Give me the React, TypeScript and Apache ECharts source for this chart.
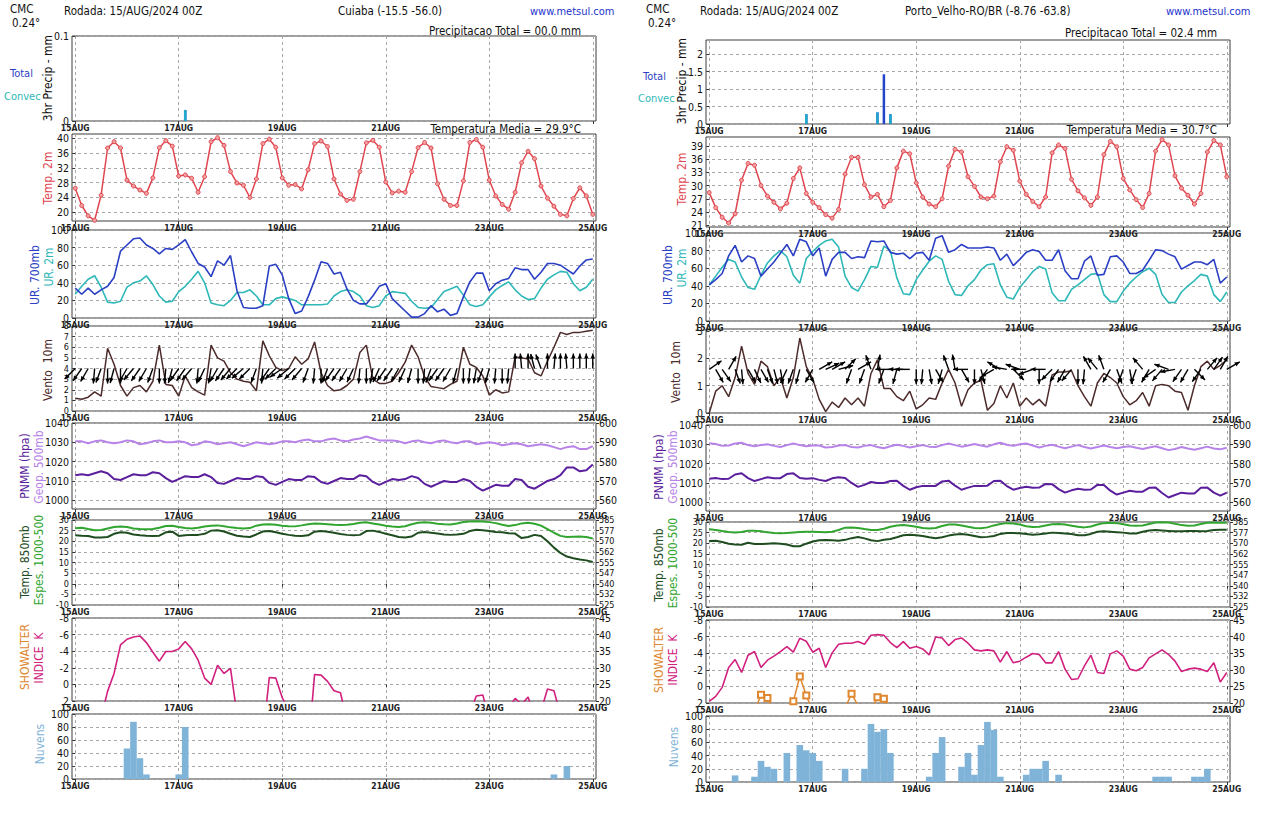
import React, { useEffect, useRef } from "react";
import * as echarts from "echarts";

const FONT = '"Liberation Sans Narrow","DejaVu Sans Condensed","Arial Narrow","Liberation Sans",sans-serif';

const DAY_HOURS = [0, 48, 96, 144, 192, 240];
const DAY_LABELS = ["15AUG", "17AUG", "19AUG", "21AUG", "23AUG", "25AUG"];
const STEP_HOURS = 3;

// tick label lists
const TICKS_PRECIP_CUIABA = [0, 0.1];
const TICKS_PRECIP_PVH = [0, 0.5, 1, 1.5, 2];
const TICKS_TEMP_CUIABA = [20, 24, 28, 32, 36, 40];
const TICKS_TEMP_PVH = [21, 24, 27, 30, 33, 36, 39];
const TICKS_UR = [0, 20, 40, 60, 80, 100];
const TICKS_WIND_CUIABA = [0, 1, 2, 3, 4, 5, 6, 7, 8];
const TICKS_WIND_PVH = [0, 1, 2, 3];
const TICKS_PNMM = [1000, 1010, 1020, 1030, 1040];
const TICKS_GEOP = [560, 570, 580, 590, 600];
const TICKS_T850 = [-10, -5, 0, 5, 10, 15, 20, 25, 30];
const TICKS_ESPES = [525, 532.5, 540, 547.5, 555, 562.5, 570, 577.5, 585];
const TICKS_SHOWALTER = [-8, -6, -4, -2, 0, 2];
const TICKS_K = [20, 25, 30, 35, 40, 45];
const TICKS_NUVENS = [0, 20, 40, 60, 80, 100];

// ---------------- Cuiaba (3-hourly, 15AUG00Z .. 25AUG00Z) ----------------
const cuiabaPrecipTotal = [[17, 0.013]];
const cuiabaPrecipConvec = [[17, 0.013]];
const cuiabaTemp2m = [26.5,21.8,19.0,17.8,24.6,37.4,39.1,37.4,28.7,27.1, 26.0,25.1,29.3,37.5,39.4,37.9,29.8,30.1,29.2,25.4, 29.6,39.1,40.2,38.1,31.0,27.9,27.3,24.0,29.0,38.6, 39.8,37.6,29.3,27.3,27.5,26.3,31.5,38.6,39.3,37.8, 29.0,24.9,23.2,23.5,31.0,38.8,39.5,37.6,28.2,25.2, 25.7,25.4,31.0,37.5,38.9,37.4,27.7,23.5,21.8,21.8, 28.5,38.9,39.7,37.6,28.7,24.4,22.1,20.8,25.4,33.4, 36.5,34.5,27.1,23.8,21.6,19.4,19.0,23.7,26.6,24.4, 19.4];
const cuiabaUR700 = [34,27,34,27,32,36,46,76,83,90, 91,83,79,73,79,78,83,89,75,62, 58,47,65,60,71,31,12,11,11,14, 59,61,49,22,5,8,24,43,64,62, 50,52,33,20,16,16,25,36,39,22, 15,8,1,1,5,14,7,10,3,5, 24,41,51,51,31,39,43,45,57,55, 55,44,52,62,62,60,55,50,59,66, 67];
const cuiabaUR2m = [27,36,44,48,35,18,17,19,35,40, 42,48,38,25,18,19,30,36,44,53, 40,17,15,14,20,29,29,32,25,15, 15,22,24,22,20,15,15,15,15,16, 25,30,32,30,25,14,12,14,25,30, 29,28,19,12,11,12,21,30,33,36, 26,15,13,15,24,32,37,41,32,25, 21,22,34,44,49,53,52,39,31,35, 44];
const cuiabaWind10m = [1.2,1.1,1.3,1.8,1.4,5.9,4.4,2.4,1.4,2.2, 2.4,1.8,2.8,6.2,2.5,2.4,1.4,3.3,2.2,1.8, 1.5,6.2,5.0,4.7,3.6,3.0,2.8,2.7,1.9,6.6, 5.2,4.1,3.8,4.0,5.1,4.4,4.9,6.5,3.6,2.4, 1.9,2.0,2.4,3.0,5.5,6.2,3.0,2.6,2.6,2.8, 3.6,4.6,6.2,5.1,3.2,2.3,2.2,2.1,2.5,2.8, 6.0,4.4,4.1,3.3,1.5,2.0,1.7,1.8,5.1,5.0, 4.9,3.6,3.3,4.7,6.0,7.4,7.2,7.4,7.4,7.5, 7.6];
// direction the wind arrow points to (degrees clockwise from north)
const cuiabaWindDir = [225,215,210,185,200,180,195,180,210,220, 215,210,200,180,185,195,215,215,220,185, 205,190,210,215,220,225,230,225,200,185, 215,225,235,230,225,220,200,185,180,200, 215,215,210,205,185,180,190,205,215,215, 210,205,195,180,185,200,215,215,210,195, 180,185,190,200,195,185,180,185,0,355, 0,345,340,0,5,0,355,0,0,0, 0];
const cuiabaPNMM = [1013,1013.5,1013,1014,1015,1014,1011,1010.5,1012,1013.5, 1013,1013,1014.5,1014,1011.5,1009.5,1011,1012.5,1012,1012, 1013.5,1012,1009,1008.5,1010,1011.5,1011,1011,1012.5,1012, 1009,1008,1009.5,1011,1010.5,1010.5,1012.5,1012,1009.5,1008.5, 1010,1011.5,1011,1011,1013,1012.5,1009.5,1008,1009.5,1011, 1010.5,1011,1012.5,1011.5,1008.5,1007,1008.5,1010,1009.5,1009.5, 1011,1010,1007,1005,1006.5,1008,1007.5,1007.5,1011,1010.5, 1007,1006,1008,1010,1011,1013,1017,1017,1015,1015.5, 1018.5];
const cuiabaGeop500 = [590.5,590.5,589.5,590.5,591,590,589.5,590,591,590.5, 589,589.5,590.5,591,590,590,590.5,590,588.5,589, 590.5,590,589,589.5,590,589,588,589,590,589.5, 589,589.5,590.5,590.5,590,591,591.5,590.5,590.5,591.5, 592,591,590.5,591.5,592,593,592,591,591,591, 590.5,589.5,590.5,591,590,589.5,590.5,591,590,589.5, 590.5,590.5,589,589.5,590,589.5,588.5,589,589.5,589, 588,588.5,589,588.5,587.5,586.5,587.5,588,586.5,586.5, 588];
const cuiabaT850 = [22.8,22.6,22.5,21.8,21.8,22.0,23.5,24.2,24.0,23.2, 22.8,22.6,22.5,22.6,24.2,24.5,22.5,22.8,23.0,23.0, 23.5,25.0,25.2,24.6,23.5,22.6,22.2,22.0,23.2,24.6, 24.8,24.2,23.5,23.0,22.6,22.5,22.8,24.5,24.8,24.5, 24.0,23.4,23.0,22.8,23.0,24.8,25.0,24.4,23.5,22.8, 22.0,21.8,22.2,24.0,24.4,24.0,23.6,23.2,23.0,23.2, 23.5,24.8,25.4,25.2,24.8,24.4,24.2,23.8,23.6,21.5, 22.0,23.0,22.5,20.0,17.0,14.5,12.8,12.0,11.4,11.0, 10.2];
const cuiabaEspes = [579.2,579.5,578.6,577.8,578.0,579.0,580.0,580.4,580.0,579.0, 578.6,578.5,578.6,579.5,580.8,581.0,580.0,579.3,579.0,579.5, 580.4,581.0,581.2,580.6,579.8,579.3,579.0,579.3,581.0,581.8, 582.0,581.6,581.0,580.6,580.5,581.2,582.0,582.6,582.4,582.0, 581.6,581.4,581.6,582.2,583.0,583.4,582.6,581.8,581.0,580.4, 580.0,580.6,582.0,583.0,583.4,583.0,582.4,582.0,581.8,582.6, 583.6,584.0,584.2,584.0,583.5,582.8,581.6,580.8,581.4,582.6, 583.0,582.4,581.0,578.6,576.0,573.8,573.0,573.2,573.4,573.0, 572.0];
const cuiabaIndiceK = [10,12,14,15,15, 22.9,28.3,36.9,38.6,39.3,39.6,37.6,34.7,32.0,34.9,34.9,35.7,37.9,35.7,32.3,26.9,25.0,30.8,28.3,29.8, 16,12,12,12,9, 27.1,26.9,21, 17,14,12,5, 28,27.8,25.9,23.1,22.5, 14,12,12,13,14,14,13,12,12,12,13,14,14,13,12,12,13,14,15,16.5, 21.5,21.8, 14.6,14,15,18, 20.8,19,21.2,15,17,23.6,23.1,16,14,13,13,12,12];
const cuiabaNuvens = [[8,47],[9,88],[10,32],[11,7],[16,7],[17,80],[74,7],[76,20]];

// ---------------- Porto Velho ----------------
const pvhPrecipTotal = [[15,0.28],[26,0.33],[27,1.42],[28,0.28]];
const pvhPrecipConvec = [[15,0.28],[26,0.33],[28,0.28]];
const pvhTemp2m = [28.4,25.0,22.8,21.5,23.6,31.2,35.0,34.6,30.0,27.6, 26.2,24.7,26.0,31.6,34.0,28.2,26.2,25.0,23.4,22.6, 24.6,32.6,36.4,36.4,30.2,27.4,28.0,25.2,26.6,34.0, 37.8,37.2,30.6,27.4,25.8,25.2,27.0,34.4,38.2,37.6, 32.0,29.8,27.4,27.0,27.6,35.4,38.8,38.0,31.0,28.0, 26.4,25.2,27.4,37.4,39.2,38.4,31.4,28.8,27.2,25.5, 27.4,37.0,40.0,38.8,31.6,29.0,26.8,25.0,28.2,37.8, 40.4,39.2,32.2,29.4,27.8,25.8,28.2,37.6,40.2,39.2, 32.0];
const pvhUR700 = [41,47,54,74,86,67,74,71,51,59, 67,77,87,74,93,90,74,83,51,70, 78,78,71,73,72,91,90,91,78,76, 77,71,77,78,69,94,97,78,81,87, 83,83,83,84,83,69,76,63,70,78, 81,79,69,69,81,57,48,48,68,74, 52,53,73,74,67,54,54,58,69,81, 80,76,73,59,63,67,67,64,70,43, 50];
const pvhUR2m = [41,51,61,70,67,50,38,36,52,66, 74,80,73,52,43,71,79,86,91,93, 84,51,38,34,47,62,61,85,80,49, 31,30,47,58,68,74,70,45,30,29, 40,47,58,64,65,41,27,25,38,47, 56,62,59,32,23,23,36,41,47,53, 54,30,22,22,34,43,50,56,60,53, 30,21,21,33,40,46,53,51,30,22, 33];
const pvhWind10m = [0.0,0.8,1.0,0.6,1.3,2.45,1.45,1.05,1.9,1.7, 1.0,1.3,0.55,1.3,2.75,1.7,1.25,0.5,0.05,0.4, 0.2,0.55,0.3,0.55,0.25,1.45,1.95,0.9,0.9,0.6, 0.45,0.8,0.15,0.3,0.55,0.5,1.1,1.6,1.1,0.25, 0.85,1.1,1.2,0.1,0.35,1.0,0.55,1.1,0.25,0.55, 0.3,0.5,0.25,1.4,1.5,1.5,1.55,1.0,0.6,0.25, 1.1,1.45,1.3,1.1,0.6,0.3,0.45,0.75,0.25,1.0, 1.05,1.0,0.8,0.75,0.1,1.0,1.7,1.9,1.6,1.75, 1.95];
const pvhWindDir = [55,150,145,30,160,175,150,155,150,160, 165,170,205,200,195,150,210,60,65,60, 75,45,200,60,200,340,10,200,270,195, 270,270,180,185,170,150,195,340,350,150, 270,180,165,215,240,300,280,135,290,270, 250,180,270,225,215,210,220,180,185,330, 320,340,210,160,200,170,200,320,210,235, 220,290,260,215,210,135,215,40,35,30, 60];
const pvhPNMM = [1012.2,1012.6,1012.0,1012.2,1014.4,1015.0,1012.5,1011.0,1012.0,1013.0, 1012.5,1012.5,1014.6,1015.0,1012.6,1012.2,1012.5,1011.6,1011.0,1012.4, 1013.0,1012.6,1010.0,1008.0,1009.0,1010.5,1010.0,1010.0,1011.0,1011.2, 1008.5,1006.5,1007.8,1008.5,1008.4,1008.5,1010.8,1011.2,1008.6,1006.5, 1007.6,1008.5,1008.4,1008.6,1011.0,1011.2,1008.4,1006.5,1007.4,1008.0, 1007.5,1007.6,1009.5,1009.4,1006.8,1005.0,1006.2,1007.0,1006.5,1006.6, 1009.0,1009.0,1006.0,1004.0,1005.0,1006.0,1005.5,1005.5,1007.5,1007.6, 1004.8,1002.5,1003.8,1005.0,1004.6,1004.5,1007.5,1007.6,1005.0,1003.5, 1005.0];
const pvhGeop500 = [590.6,590.2,589.2,589.4,590.4,590.8,589.6,589.0,589.6,590.0, 589.2,588.6,589.6,590.4,589.6,589.0,589.4,589.4,588.4,588.6, 589.4,589.6,588.6,588.4,589.2,589.6,588.6,588.0,589.0,589.8, 589.2,588.4,589.0,589.6,588.8,588.6,589.6,590.4,589.6,588.8, 589.4,590.2,589.4,588.8,590.0,590.8,589.8,589.2,590.0,590.4, 589.4,588.4,589.2,589.8,588.8,588.0,588.8,589.6,588.6,587.8, 588.6,589.4,588.6,588.0,588.6,589.0,588.2,587.6,588.4,589.0, 588.0,587.0,587.6,588.6,587.8,587.2,588.0,588.8,587.8,587.4, 588.2];
const pvhT850 = [21.1,21.2,20.6,19.8,19.4,19.3,20.2,19.6,19.6,19.8, 20.0,19.8,19.4,18.6,18.6,19.8,20.8,21.4,21.5,21.4, 21.2,21.6,22.4,22.9,22.3,21.4,21.0,21.6,22.0,22.8, 23.8,24.0,23.8,23.4,22.8,22.4,22.8,23.6,24.1,24.3, 24.0,23.4,22.8,23.0,23.4,24.4,24.8,24.8,24.7,24.4, 24.0,24.2,24.6,25.0,24.8,24.6,24.4,23.8,23.8,24.4, 25.4,25.6,25.4,25.2,25.0,24.6,24.6,25.4,26.0,26.2, 26.0,25.8,25.6,25.6,25.8,25.8,25.6,25.8,26.2,26.4, 26.4];
const pvhEspes = [579.8,579.4,578.6,578.0,577.6,578.0,578.8,578.8,578.4,577.8, 577.2,577.0,577.2,577.6,578.0,578.2,578.2,578.0,577.8,578.2, 579.4,581.0,581.2,580.8,580.0,579.4,579.4,580.2,581.6,582.6, 582.8,582.4,581.6,580.8,580.4,580.8,582.2,583.2,583.2,582.6, 581.6,580.8,580.6,581.2,582.6,583.6,584.2,584.0,583.2,582.0, 581.4,581.6,582.6,583.4,583.6,583.2,582.4,581.6,581.2,581.8, 583.2,584.2,584.4,584.2,583.4,582.6,582.4,582.6,583.6,584.6, 584.8,584.6,583.8,582.8,582.4,582.6,583.6,584.4,584.6,584.4, 584.4];
const pvhIndiceK = [20.5,22,24.7,30.7,33.1,29.2,34.4,35.5,30.7,32.9, 34.1,35.5,37,35.3,39.5,38.6,35.3,36.5,30.7,35.1, 37.7,38,38,38.5,37.7,40.4,40.6,40.4,38.2,36.7, 38.5,36.5,37,36.3,34.5,39.9,39.6,37.3,39.1,39.6, 38,36,35.7,36,35.7,32.3,35.5,32.1,32.6,33.8, 34.9,34.6,32.1,32.1,35.5,30.2,27.1,27.3,31.2,34.4, 29.2,28.9,34.8,35.7,34.1,30.2,29.7,30.7,33.6,34.8, 36,34.6,32.6,29.5,30.2,30.5,30.2,29.5,32.1,26.3, 29.2];
const pvhShowalter = [5,5,4,4,4,4,4,3,1.0,1.4, 3,4,3,1.8,-1.2,1.1,3,4,4,5, 4,2.6,0.9,2.3,4,3,1.3,1.5,3,4, 4,3,4,3,4,3,3,4,3,3, 4,4,4,4,4,5,4,5,5,5, 4,4,5,5,4,5,6,6,5,4, 5,5,4,4,4,5,5,5,4,4, 4,4,5,5,5,5,5,5,5,6, 5];
const pvhNuvens = [[4,10],[7,8],[8,32],[9,23],[10,20],[12,44],[14,56],[15,48],[16,44],[17,32],[21,20],[24,20],[25,88],[26,76],[27,80],[28,44],[34,8],[35,44],[36,68],[39,23],[40,44],[41,11],[42,56],[43,91],[44,79],[45,8],[49,11],[50,20],[51,20],[52,32],[54,11],[69,8],[70,8],[71,8],[75,8],[76,8],[77,20]];

const C = {
  red: "#e0464f",
  blue: "#2b3fc4",
  teal: "#2fb8b8",
  wind: "#4d2b2b",
  pnmm: "#5b1f9e",
  geop: "#b883e8",
  t850: "#1f4d1f",
  espes: "#31a52f",
  k: "#d1207e",
  show: "#e0882f",
  nuv: "#7fb3d8",
  ptot: "#2244cc",
  pconv: "#22aacc",
  grid: "#a8a8a8",
  border: "#3c3c3c",
};

const series3h = (arr: number[]) => arr.map((v, i) => [i * STEP_HOURS, v]);
const pairs3h = (arr: number[][]) => arr.map(([i, v]) => [i * STEP_HOURS, v]);

function buildOption() {
  const grid: any[] = [];
  const xAxis: any[] = [];
  const yAxis: any[] = [];
  const series: any[] = [];
  const graphic: any[] = [];
  const GRID_W = 524;

  const addGrid = (left: number, top: number, bottom: number, labelHours: number[] = DAY_HOURS) => {
    const gi = grid.length;
    grid.push({ left, top, width: GRID_W, height: bottom - top, show: true, borderColor: C.border, borderWidth: 1, outerBoundsMode: "none", containLabel: false });
    xAxis.push({
      gridIndex: gi, type: "value", min: -1.5, max: 241.5,
      axisLine: { show: false },
      axisTick: { show: true, customValues: DAY_HOURS, length: 3, lineStyle: { color: "#333" } },
      axisLabel: { show: true, customValues: labelHours, showMinLabel: true, showMaxLabel: true, hideOverlap: false, formatter: (v: number) => DAY_LABELS[DAY_HOURS.indexOf(v)] || "", fontSize: 8.5, lineHeight: 9, fontWeight: "bold", margin: 2, color: "#222", fontFamily: FONT },
      splitLine: { show: true, lineStyle: { color: C.grid, type: [3, 3], width: 1 } },
    });
    return gi;
  };
  const addY = (gi: number, min: number, max: number, ticks: number[], opts: any = {}) => {
    yAxis.push({
      gridIndex: gi, type: "value", min, max, inverse: !!opts.inverse, position: opts.right ? "right" : "left",
      axisLine: { show: false },
      axisTick: { show: true, customValues: ticks, length: 3, lineStyle: { color: "#333" } },
      axisLabel: { show: true, customValues: ticks, showMinLabel: true, showMaxLabel: true, hideOverlap: false, formatter: opts.fmt || ((v: number) => String(v)), fontSize: opts.fs || 10.5, lineHeight: opts.fs ? opts.fs - 1 : 10, margin: 3, color: "#111", fontFamily: FONT },
      splitLine: { show: !opts.right, lineStyle: { color: C.grid, type: [3, 3], width: 1 } },
    });
    return yAxis.length - 1;
  };
  const line = (gi: number, yi: number, data: any[], color: string, width = 1.5, extra: any = {}) => {
    series.push({ type: "line", xAxisIndex: gi, yAxisIndex: yi, data, symbol: "none", lineStyle: { color, width }, itemStyle: { color }, clip: true, z: 3, ...extra });
  };
  const bars = (gi: number, yi: number, data: any[], color: string, width: number, z = 2) => {
    series.push({ type: "bar", xAxisIndex: gi, yAxisIndex: yi, data, barWidth: width, barGap: "-100%", itemStyle: { color }, z });
  };
  const arrows = (gi: number, yi: number, dirs: number[], level: number) => {
    series.push({
      type: "custom", xAxisIndex: gi, yAxisIndex: yi, clip: false, z: 4,
      data: series3h(dirs),
      renderItem: (_p: any, api: any) => {
        const t = api.value(0);
        const d = (api.value(1) * Math.PI) / 180;
        const p = api.coord([t, level]);
        const L = 15;
        const ex = p[0] + L * Math.sin(d);
        const ey = p[1] - L * Math.cos(d);
        const hl = 5.5, ha = 0.42;
        const b = d + Math.PI;
        const h1 = [ex + hl * Math.sin(b - ha), ey - hl * Math.cos(b - ha)];
        const h2 = [ex + hl * Math.sin(b + ha), ey - hl * Math.cos(b + ha)];
        return {
          type: "group",
          children: [
            { type: "line", shape: { x1: p[0], y1: p[1], x2: ex, y2: ey }, style: { stroke: "#000", lineWidth: 1.4 } },
            { type: "polygon", shape: { points: [[ex, ey], h1, h2] }, style: { fill: "#000" } },
          ],
        };
      },
    });
  };
  const txt = (x: number, y: number, text: string, fill: string, size = 12, align = "left", rot = 0) => {
    graphic.push({
      type: "text", x, y, rotation: rot, silent: true,
      style: { text, fill, font: `${size}px ${FONT}`, fontSize: size, fontFamily: FONT, textAlign: align, align, textVerticalAlign: "middle", verticalAlign: "middle" },
    });
  };
  const vtxt = (x: number, y: number, text: string, fill: string) => txt(x, y, text, fill, 12, "center", Math.PI / 2);

  const stations = [
    {
      ox: 0, gl: 72,
      panels: [[36, 121], [134, 221], [230, 318], [326, 411], [423, 509], [520, 605], [618, 701], [714, 779]],
      name: "Cuiaba (-15.5 -56.0)", nameX: 338,
      ptotText: "Precipitacao Total = 00.0 mm", ptotY: 31,
      tmedText: "Temperatura Media = 29.9\u00B0C", tmedY: 129,
      precipMax: 0.1, precipTicks: TICKS_PRECIP_CUIABA,
      tMin: 17.6, tMax: 41.2, tTicks: TICKS_TEMP_CUIABA,
      wMax: 8, wTicks: TICKS_WIND_CUIABA, wFs: 9, arrowLevel: 4,
      ptot: cuiabaPrecipTotal, pconv: cuiabaPrecipConvec, temp: cuiabaTemp2m, ur700: cuiabaUR700, ur2m: cuiabaUR2m,
      wind: cuiabaWind10m, dir: cuiabaWindDir, pnmm: cuiabaPNMM, geop: cuiabaGeop500, t850: cuiabaT850, espes: cuiabaEspes,
      kidx: cuiabaIndiceK, show: null as any, nuv: cuiabaNuvens,
      lab: { precip: [48, 78], total: [10, 73], convec: [4, 96], temp: [48, 178], ur700: [35, 275], ur2m: [49, 267], vento: [48, 370], pnmm: [25, 466], geop: [39, 467], t850: [25, 562], espes: [39, 560], show: [25, 657], k: [39, 658], nuv: [40, 744] },
    },
    {
      ox: 636, gl: 706,
      panels: [[40, 124], [137, 227], [233, 321], [329, 413], [425, 511], [522, 607], [620, 703], [716, 782]],
      name: "Porto_Velho-RO/BR (-8.76 -63.8)", nameX: 905,
      ptotText: "Precipitacao Total = 02.4 mm", ptotY: 33,
      tmedText: "Temperatura Media = 30.7\u00B0C", tmedY: 130,
      precipMax: 2.4, precipTicks: TICKS_PRECIP_PVH,
      tMin: 20.6, tMax: 41, tTicks: TICKS_TEMP_PVH,
      wMax: 3.08, wTicks: TICKS_WIND_PVH, wFs: 0, arrowLevel: 1.6,
      ptot: pvhPrecipTotal, pconv: pvhPrecipConvec, temp: pvhTemp2m, ur700: pvhUR700, ur2m: pvhUR2m,
      wind: pvhWind10m, dir: pvhWindDir, pnmm: pvhPNMM, geop: pvhGeop500, t850: pvhT850, espes: pvhEspes,
      kidx: pvhIndiceK, show: pvhShowalter, nuv: pvhNuvens,
      lab: { precip: [682, 81], total: [643, 76], convec: [638, 98], temp: [682, 179], ur700: [668, 275], ur2m: [682, 268], vento: [676, 372], pnmm: [659, 467], geop: [673, 467], t850: [659, 565], espes: [673, 563], show: [659, 660], k: [673, 660], nuv: [674, 747] },
    },
  ];

  for (const s of stations) {
    const P = s.panels;
    const hx = s.ox;
    // header
    txt(hx + 10, 9, "CMC", "#111", 11.5);
    txt(hx + 12, 23, "0.24\u00B0", "#111", 11.5);
    txt(hx + 64, 11, "Rodada: 15/AUG/2024 00Z", "#111", 11.5);
    txt(s.nameX, 11, s.name, "#111", 11.5);
    txt(hx + 530, 11, "www.metsul.com", "#2233cc", 11);
    txt(hx + 581, s.ptotY, s.ptotText, "#111", 11.5, "right");
    txt(hx + 581, s.tmedY, s.tmedText, "#111", 11.5, "right");

    // 1 precip
    let g = addGrid(s.gl, P[0][0], P[0][1], [0, 48, 96, 144]);
    let y = addY(g, 0, s.precipMax, s.precipTicks);
    bars(g, y, pairs3h(s.ptot), C.ptot, 2.5, 2);
    bars(g, y, pairs3h(s.pconv), C.pconv, 2.5, 3);
    vtxt(s.lab.precip[0], s.lab.precip[1], "3hr Precip - mm", "#111");
    txt(s.lab.total[0], s.lab.total[1], "Total", C.blue, 11);
    txt(s.lab.convec[0], s.lab.convec[1], "Convec", C.teal, 11);

    // 2 temp
    g = addGrid(s.gl, P[1][0], P[1][1]);
    y = addY(g, s.tMin, s.tMax, s.tTicks);
    line(g, y, series3h(s.temp), C.red, 1.5, { symbol: "circle", symbolSize: 4, showSymbol: true, itemStyle: { color: "#f3a0a0", borderColor: C.red, borderWidth: 1 } });
    vtxt(s.lab.temp[0], s.lab.temp[1], "Temp. 2m", C.red);

    // 3 UR
    g = addGrid(s.gl, P[2][0], P[2][1]);
    y = addY(g, 0, 100, TICKS_UR);
    line(g, y, series3h(s.ur2m), C.teal, 1.6);
    line(g, y, series3h(s.ur700), C.blue, 1.6);
    vtxt(s.lab.ur700[0], s.lab.ur700[1], "UR. 700mb", C.blue);
    vtxt(s.lab.ur2m[0], s.lab.ur2m[1], "UR. 2m", C.teal);

    // 4 wind
    g = addGrid(s.gl, P[3][0], P[3][1]);
    y = addY(g, 0, s.wMax, s.wTicks, { fs: s.wFs || undefined });
    line(g, y, series3h(s.wind), C.wind, 1.5);
    arrows(g, y, s.dir, s.arrowLevel);
    vtxt(s.lab.vento[0], s.lab.vento[1], "Vento  10m", C.wind);

    // 5 PNMM / Geop
    g = addGrid(s.gl, P[4][0], P[4][1]);
    y = addY(g, 995.5, 1040, TICKS_PNMM);
    let y2 = addY(g, 555.5, 600, TICKS_GEOP, { right: true });
    line(g, y2, series3h(s.geop), C.geop, 2);
    line(g, y, series3h(s.pnmm), C.pnmm, 2);
    vtxt(s.lab.pnmm[0], s.lab.pnmm[1], "PNMM (hpa)", C.pnmm);
    vtxt(s.lab.geop[0], s.lab.geop[1], "Geop. 500mb", C.geop);

    // 6 T850 / Espes
    g = addGrid(s.gl, P[5][0], P[5][1]);
    y = addY(g, -10, 30, TICKS_T850, { fs: 9 });
    y2 = addY(g, 525, 585, TICKS_ESPES, { right: true, fs: 9, fmt: (v: number) => String(Math.floor(v)) });
    line(g, y2, series3h(s.espes), C.espes, 2);
    line(g, y, series3h(s.t850), C.t850, 2);
    vtxt(s.lab.t850[0], s.lab.t850[1], "Temp. 850mb", C.t850);
    vtxt(s.lab.espes[0], s.lab.espes[1], "Espes. 1000-500", C.espes);

    // 7 Showalter / K
    g = addGrid(s.gl, P[6][0], P[6][1]);
    y = addY(g, -8, 2, TICKS_SHOWALTER, { inverse: true });
    y2 = addY(g, 20, 45, TICKS_K, { right: true });
    line(g, y2, series3h(s.kidx), C.k, 1.6);
    if (s.show) line(g, y, series3h(s.show), C.show, 1.5, { symbol: "emptyRect", symbolSize: 6, showSymbol: true, itemStyle: { color: C.show, borderColor: C.show, borderWidth: 1.5 } });
    vtxt(s.lab.show[0], s.lab.show[1], "SHOWALTER", C.show);
    vtxt(s.lab.k[0], s.lab.k[1], "INDICE  K", C.k);

    // 8 Nuvens
    g = addGrid(s.gl, P[7][0], P[7][1]);
    y = addY(g, 0, 100, TICKS_NUVENS);
    bars(g, y, pairs3h(s.nuv), C.nuv, 6.6, 2);
    vtxt(s.lab.nuv[0], s.lab.nuv[1], "Nuvens", C.nuv);
  }

  return {
    animation: false,
    backgroundColor: "#ffffff",
    textStyle: { fontFamily: FONT },
    grid, xAxis, yAxis, series,
    graphic: { elements: graphic },
  };
}

export default function App() {
  const ref = useRef<HTMLDivElement>(null);
  useEffect(() => {
    if (!ref.current) return;
    const chart = echarts.init(ref.current, null, { renderer: "svg" });
    chart.setOption(buildOption() as any);
    return () => chart.dispose();
  }, []);
  return <div ref={ref} style={{ position: "absolute", left: 0, top: 0, width: 1276, height: 813, background: "#fff" }} />;
}
